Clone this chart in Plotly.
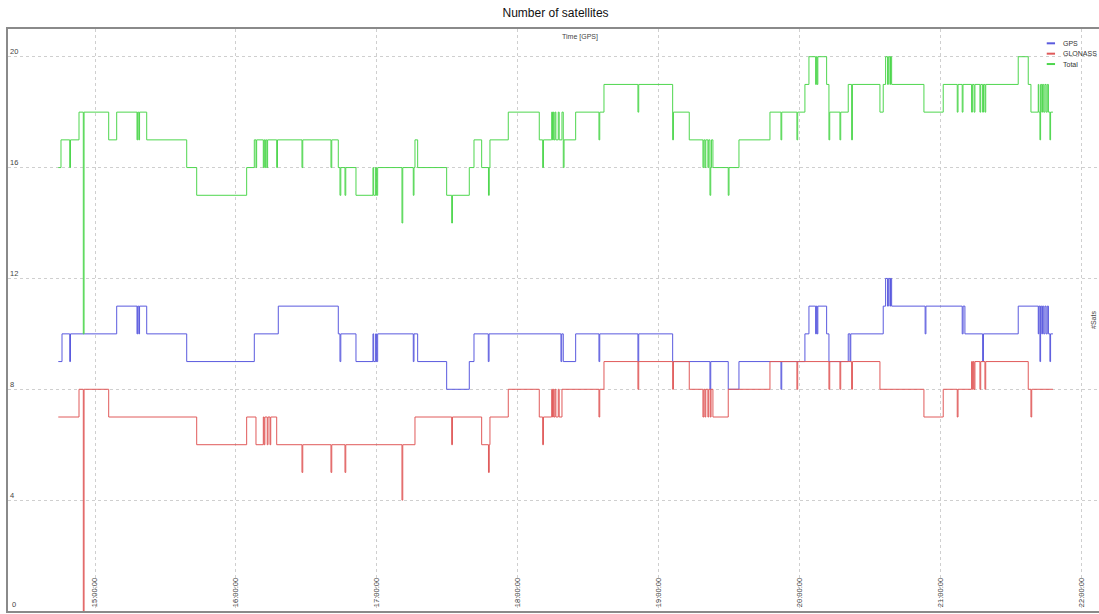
import plotly.graph_objects as go

DAY = "2012-06-01 "

# ---- GPS satellites (step change points) ----
gps_times = ["14:44:22", "14:45:57", "14:49:14", "14:49:34", "15:09:14", "15:17:53", "15:18:10",
             "15:18:40", "15:18:58", "15:22:01", "15:39:03", "16:07:50", "16:18:03", "16:43:36",
             "16:44:19", "16:44:40", "16:51:08", "16:58:22", "16:58:40", "16:59:30", "16:59:50",
             "17:00:22", "17:15:32", "17:15:50", "17:17:24", "17:29:45", "17:39:23", "17:41:23",
             "17:47:28", "17:47:48", "18:18:25", "18:18:45", "18:19:24", "18:24:41", "18:34:36",
             "18:34:56", "18:51:12", "18:51:32", "19:05:59", "19:21:52", "19:22:12", "19:29:39",
             "19:34:13", "19:52:06", "19:52:26", "20:02:18", "20:04:01", "20:06:52", "20:07:10",
             "20:07:30", "20:07:48", "20:11:33", "20:12:32", "20:20:45", "20:21:30", "20:21:50",
             "20:35:39", "20:36:40", "20:37:30", "20:37:50", "20:38:30", "20:38:45", "20:39:14",
             "20:53:30", "20:53:50", "21:09:17", "21:09:40", "21:10:26", "21:17:59", "21:18:20",
             "21:33:08", "21:41:40", "21:41:55", "21:42:23", "21:42:40", "21:43:10", "21:43:30",
             "21:44:00", "21:44:30", "21:45:00", "21:45:30", "21:46:00", "21:46:38", "21:46:55",
             "21:47:55"]
gps_values = [9, 10, 9, 10, 11, 10, 11,
              10, 11, 10, 9, 10, 11, 10,
              9, 10, 9, 10, 9, 10, 9,
              10, 9, 10, 9, 8, 9, 10,
              9, 10, 9, 10, 9, 10, 9,
              10, 9, 10, 9, 8, 9, 8,
              9, 8, 9, 10, 11, 10, 11,
              10, 11, 10, 9, 10, 9, 10,
              11, 12, 11, 12, 11, 12, 11,
              10, 11, 10, 11, 10, 9, 10,
              11, 10, 11, 9, 11, 10, 11,
              10, 11, 10, 11, 10, 9, 10,
              10]

# ---- GLONASS satellites ----
glo_times = ["14:44:22", "14:53:11", "14:55:01", "14:55:20", "15:05:50", "15:43:18", "16:04:35",
             "16:08:33", "16:11:40", "16:12:00", "16:12:20", "16:13:20", "16:13:40", "16:14:31",
             "16:14:50", "16:17:22", "16:28:08", "16:28:28", "16:40:29", "16:40:49", "16:46:27",
             "16:46:47", "17:10:43", "17:11:03", "17:16:15", "17:31:53", "17:32:13", "17:44:39",
             "17:47:33", "17:47:53", "17:48:11", "17:55:59", "18:09:11", "18:10:38", "18:10:58",
             "18:14:28", "18:14:50", "18:15:08", "18:15:25", "18:15:52", "18:16:15", "18:17:16",
             "18:17:40", "18:18:51", "18:34:36", "18:34:56", "18:36:44", "18:51:12", "18:51:32",
             "19:05:59", "19:06:19", "19:13:03", "19:18:53", "19:19:15", "19:19:44", "19:20:05",
             "19:21:00", "19:21:20", "19:22:00", "19:22:20", "19:23:08", "19:29:39", "19:47:25",
             "19:58:54", "19:59:14", "20:12:32", "20:12:52", "20:17:13", "20:17:33", "20:22:12",
             "20:22:32", "20:34:15", "20:52:59", "21:01:12", "21:07:10", "21:07:30", "21:13:17",
             "21:13:37", "21:14:00", "21:14:20", "21:14:42", "21:16:50", "21:17:10", "21:18:58",
             "21:19:18", "21:37:24", "21:38:33", "21:38:53", "21:47:55"]
glo_values = [7, 8, 0, 8, 7, 6, 7,
              6, 7, 6, 7, 6, 7, 6,
              7, 6, 5, 6, 5, 6, 5,
              6, 4, 6, 7, 6, 7, 6,
              5, 6, 7, 8, 7, 6, 7,
              8, 7, 8, 7, 8, 7, 8,
              7, 8, 7, 8, 9, 8, 9,
              8, 9, 8, 7, 8, 7, 8,
              7, 8, 7, 8, 7, 8, 9,
              8, 9, 8, 9, 8, 9, 8,
              9, 8, 7, 8, 7, 8, 9,
              8, 9, 8, 9, 8, 9, 8,
              9, 8, 7, 8, 8]

# ---- Total satellites ----
tot_times = ["14:44:22", "14:45:31", "14:49:14", "14:49:34", "14:53:11", "14:55:01", "14:55:20",
             "15:05:50", "15:09:14", "15:17:53", "15:18:10", "15:18:40", "15:18:58", "15:22:01",
             "15:39:03", "15:43:18", "16:04:35", "16:07:50", "16:08:33", "16:08:50", "16:11:40",
             "16:12:00", "16:12:20", "16:12:40", "16:13:10", "16:13:30", "16:17:22", "16:17:42",
             "16:28:08", "16:28:28", "16:40:29", "16:40:49", "16:43:36", "16:44:19", "16:44:40",
             "16:46:27", "16:46:47", "16:51:08", "16:58:22", "16:58:40", "16:59:30", "16:59:50",
             "17:00:22", "17:10:43", "17:11:03", "17:15:32", "17:15:50", "17:16:15", "17:17:24",
             "17:29:45", "17:31:53", "17:32:13", "17:39:23", "17:41:23", "17:44:39", "17:47:33",
             "17:47:53", "17:48:11", "17:55:59", "18:09:11", "18:10:38", "18:10:58", "18:14:28",
             "18:14:50", "18:15:08", "18:15:25", "18:15:52", "18:16:15", "18:17:16", "18:17:40",
             "18:18:51", "18:19:24", "18:19:44", "18:24:41", "18:34:36", "18:34:56", "18:36:44",
             "18:51:12", "18:51:32", "19:05:59", "19:06:19", "19:13:03", "19:18:53", "19:19:15",
             "19:19:44", "19:20:05", "19:21:00", "19:21:20", "19:21:52", "19:22:12", "19:22:30",
             "19:23:08", "19:29:39", "19:29:59", "19:34:13", "19:47:25", "19:52:06", "19:52:26",
             "19:58:54", "19:59:14", "20:02:18", "20:04:01", "20:06:52", "20:07:10", "20:07:30",
             "20:07:48", "20:11:33", "20:12:32", "20:12:52", "20:17:13", "20:17:33", "20:20:45",
             "20:22:12", "20:22:32", "20:34:15", "20:35:39", "20:36:40", "20:37:30", "20:37:50",
             "20:38:30", "20:38:45", "20:39:14", "20:52:59", "21:01:12", "21:07:10", "21:07:30",
             "21:09:17", "21:09:37", "21:13:17", "21:13:37", "21:14:20", "21:14:42", "21:16:50",
             "21:17:10", "21:17:59", "21:18:20", "21:18:58", "21:19:18", "21:33:08", "21:37:24",
             "21:38:33", "21:41:40", "21:41:55", "21:42:23", "21:42:40", "21:43:10", "21:43:30",
             "21:44:00", "21:44:30", "21:45:00", "21:45:30", "21:46:00", "21:46:38", "21:46:55",
             "21:47:55"]
tot_values = [16, 17, 16, 17, 18, 10, 18,
              17, 18, 17, 18, 17, 18, 17,
              16, 15, 16, 17, 16, 17, 16,
              17, 16, 17, 16, 17, 16, 17,
              16, 17, 16, 17, 16, 15, 16,
              15, 16, 15, 16, 15, 16, 15,
              16, 14, 16, 15, 16, 17, 16,
              15, 14, 15, 16, 17, 16, 15,
              16, 17, 18, 17, 16, 17, 18,
              17, 18, 17, 18, 17, 18, 17,
              18, 16, 17, 18, 17, 18, 19,
              18, 19, 17, 18, 17, 16, 17,
              16, 17, 16, 17, 15, 16, 17,
              16, 15, 16, 17, 18, 17, 18,
              17, 18, 19, 20, 19, 20, 19,
              20, 19, 17, 18, 17, 18, 19,
              17, 19, 18, 19, 20, 19, 20,
              19, 20, 19, 18, 19, 18, 19,
              18, 19, 18, 19, 18, 19, 18,
              19, 18, 19, 18, 19, 20, 19,
              18, 19, 18, 17, 19, 18, 19,
              18, 19, 18, 19, 18, 17, 18,
              18]

series = [
    ("GPS", gps_times, gps_values, "#5a5ade"),
    ("GLONASS", glo_times, glo_values, "#e05a5a"),
    ("Total", tot_times, tot_values, "#4ed64e"),
]

hour_ticks = ["15:00:00", "16:00:00", "17:00:00", "18:00:00", "19:00:00", "20:00:00",
              "21:00:00", "22:00:00"]
y_ticks = [4, 8, 12, 16, 20]
y_zero_label = "0"

fig = go.Figure()
for name, t, v, col in series:
    fig.add_trace(go.Scatter(
        x=[DAY + s for s in t], y=v, name=name, mode="lines",
        line=dict(color=col, width=1, shape="hv"), showlegend=False,
    ))

FONT = "Liberation Sans, DejaVu Sans, sans-serif"

# compact legend drawn in paper coordinates (top-right, inside the plot)
legend_shapes = []
legend_notes = []
for i, (name, _, _, col) in enumerate(series):
    yy = 0.9754 - i * 0.0178
    legend_shapes.append(dict(type="line", xref="paper", yref="paper",
                              x0=0.9521, x1=0.9597, y0=yy, y1=yy,
                              line=dict(color=col, width=2)))
    legend_notes.append(dict(text=name, xref="paper", yref="paper", x=0.9655, y=yy,
                             xanchor="left", yanchor="middle", showarrow=False,
                             font=dict(size=7, color="#333333")))

fig.update_layout(
    width=1099, height=614,
    margin=dict(l=8, r=0, t=29, b=3, autoexpand=False),
    paper_bgcolor="white", plot_bgcolor="white",
    font=dict(family=FONT, size=8, color="#333333"),
    title=dict(text="Number of satellites", x=0.5055, xanchor="center",
               y=1 - 13 / 614, yanchor="middle", yref="container",
               font=dict(family=FONT, size=12, color="#111111")),
    showlegend=False,
    xaxis=dict(
        type="date",
        range=[DAY + "14:22:57", DAY + "22:07:32"],
        tickvals=[DAY + s for s in hour_ticks],
        ticktext=hour_ticks,
        tickangle=-90,
        ticklabelposition="inside",
        ticks="",
        automargin=False,
        showgrid=True, gridcolor="#cfcfcf", griddash="dot", gridwidth=1,
        showline=True, linecolor="#8a8a8a", linewidth=1.5, mirror=True,
        zeroline=False,
        tickfont=dict(size=7.5, color="#444444"),
    ),
    yaxis=dict(
        range=[0, 21.0],
        tickvals=y_ticks,
        ticklabelposition="inside top",
        ticks="",
        automargin=False,
        showgrid=True, gridcolor="#cfcfcf", griddash="dot", gridwidth=1,
        showline=True, linecolor="#8a8a8a", linewidth=1.5,
        zeroline=False,
        tickfont=dict(size=7.5, color="#444444"),
    ),
    shapes=legend_shapes,
    annotations=[
        dict(text="Time [GPS]", xref="paper", yref="paper", x=0.524, y=0.986,
             xanchor="center", yanchor="middle", showarrow=False,
             font=dict(size=7, color="#444444")),
        dict(text="#Sats", xref="paper", yref="paper", x=0.9945, y=0.5,
             xanchor="center", yanchor="middle", showarrow=False, textangle=-90,
             font=dict(size=7, color="#444444")),
        dict(text=y_zero_label, xref="paper", yref="y", x=0.002, y=0,
             xanchor="left", yanchor="bottom", showarrow=False,
             font=dict(size=7.5, color="#444444")),
    ] + legend_notes,
)

fig.write_html("out.html", config={"displayModeBar": False},
               post_script="document.body.style.margin='0';")
